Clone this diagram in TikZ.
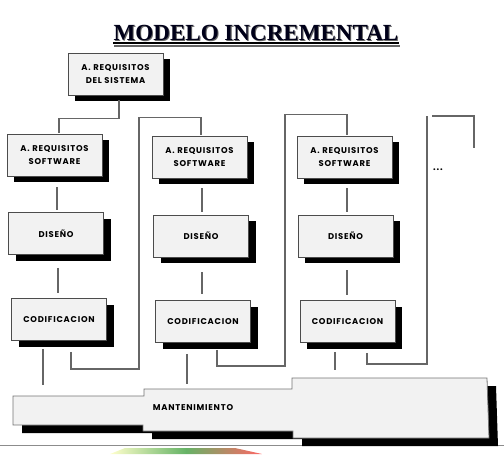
\documentclass[tikz,border=0pt]{standalone}
\usepackage{fontspec}
\usetikzlibrary{calc,shadows}
\newfontfamily\boxfont[LetterSpace=9]{Poppins}
\newfontfamily\titlefont{Liberation Serif}
\tikzset{
  box/.style={draw=black!70, line width=0.6pt, fill=gray!10,
    minimum width=71.25pt, minimum height=31.5pt, inner sep=0pt,
    align=center, font={\boxfont\bfseries\fontsize{6.3}{9.2}\selectfont},
    general shadow={fill=black, shadow xshift=5.25pt, shadow yshift=-4.5pt}},
  conn/.style={draw=black!60, line width=0.9pt},
  mshape/.style={fill=gray!10, draw=black!55, line width=0.6pt},
  tfont/.style={font={\titlefont\bfseries\fontsize{17.3}{20}\selectfont}, inner sep=0pt}
}
\begin{document}
\begin{tikzpicture}[x=0.75pt,y=-0.75pt]
\useasboundingbox (0,0) rectangle (504,454);
% title
\node[tfont, text=black!60] (titles) at (257,34.2) {MODELO INCREMENTAL};
\node[tfont, text=black!90!blue] (title) at (256,33) {MODELO INCREMENTAL};
\draw[black!60, line width=1.6pt] ($(titles.base west)+(0,4)$) -- ($(titles.base east)+(0,4)$);
\draw[black, line width=1.6pt] ($(title.base west)+(0,2.8)$) -- ($(title.base east)+(0,2.8)$);
% boxes
\node[box] (b0) at (115.5,74) {A. REQUISITOS\\DEL SISTEMA};
\node[box] (r1) at (54.5,155) {A. REQUISITOS\\SOFTWARE};
\node[box] (d1) at (56,233.5) {DISEÑO};
\node[box] (c1) at (59,319.5) {CODIFICACION};
\node[box] (r2) at (199.5,157) {A. REQUISITOS\\SOFTWARE};
\node[box] (d2) at (201,236) {DISEÑO};
\node[box] (c2) at (203,321.5) {CODIFICACION};
\node[box] (r3) at (344.5,157) {A. REQUISITOS\\SOFTWARE};
\node[box] (d3) at (345.5,236) {DISEÑO};
\node[box] (c3) at (347.5,321.5) {CODIFICACION};
% connectors top
\draw[conn] ($(b0.south)+(3.5,5)$) -- ++(0,18) -| ($(r1.north)+(4.5,-1)$);
\draw[conn] ($(r1.south)+(2.5,11)$) -- ($(d1.north)+(1,-2)$);
\draw[conn] ($(d1.south)+(2,13)$) -- ($(c1.north)+(-1,-5)$);
\draw[conn] ($(r2.south)+(2.5,10)$) -- ($(d2.north)+(1,-3)$);
\draw[conn] ($(d2.south)+(1,15)$) -- ($(c2.north)+(-1,-6)$);
\draw[conn] ($(r3.south)+(2.5,10)$) -- ($(d3.north)+(1.5,-3)$);
\draw[conn] ($(d3.south)+(1.5,13)$) -- ($(c3.north)+(-0.5,-5)$);
% loops
\draw[conn] ($(c1.south)+(12,11)$) -- ++(0,17) -- ++(68,0) |- ($(r2.north)+(1.5,-18)$) -- ($(r2.north)+(1.5,-1)$);
\draw[conn] ($(c2.south)+(14,7)$) -- ++(0,16) -- ++(68,0) |- ($(r3.north)+(2.5,-21)$) -- ($(r3.north)+(2.5,-1)$);
\draw[conn] ($(c3.south)+(19.5,10)$) -- ++(0,11) -- ++(60,0) -- ++(0,-248);
\coordinate (nx) at (432,116);
\draw[conn] (nx) -| ++(42,32);
\node[font={\boxfont\bfseries\fontsize{7}{8}\selectfont}, inner sep=0pt] (dots) at (438,170) {...};
% lines to maintenance
\draw[conn] ($(c1.south)+(-16,8)$) -- ++(0,36);
\draw[conn] ($(c2.south)+(-16,11)$) -- ++(0,30);
\draw[conn] ($(c3.south)+(-12.5,9)$) -- ++(0,18);
% bottom line and swoosh
\draw[black!45, line width=1.2pt] (0,445.5) -- (504,445.5);
\shade[left color=yellow!20, right color=red!60, middle color=green!50!black!60] (110,454) -- (125,448) -- (235,448) -- (262,454) -- cycle;
% maintenance shape
\fill[black] (22,404) -- (153,404) -- (153,397) -- (301,397) -- (301,386) -- (496,386) -- (498,446) -- (302,446) -- (302,439) -- (152,439) -- (152,433) -- (22,433) -- cycle;
\path[mshape] (13,396) -- (144,396) -- (144,389) -- (292,389) -- (292,378) -- (487,378) -- (489,438) -- (293,438) -- (293,431) -- (143,431) -- (143,425) -- (13,425) -- cycle;
\node[font={\boxfont\bfseries\fontsize{6.3}{8}\selectfont}, inner sep=0pt] (m) at (193,408) {MANTENIMIENTO};
\end{tikzpicture}
\end{document}
